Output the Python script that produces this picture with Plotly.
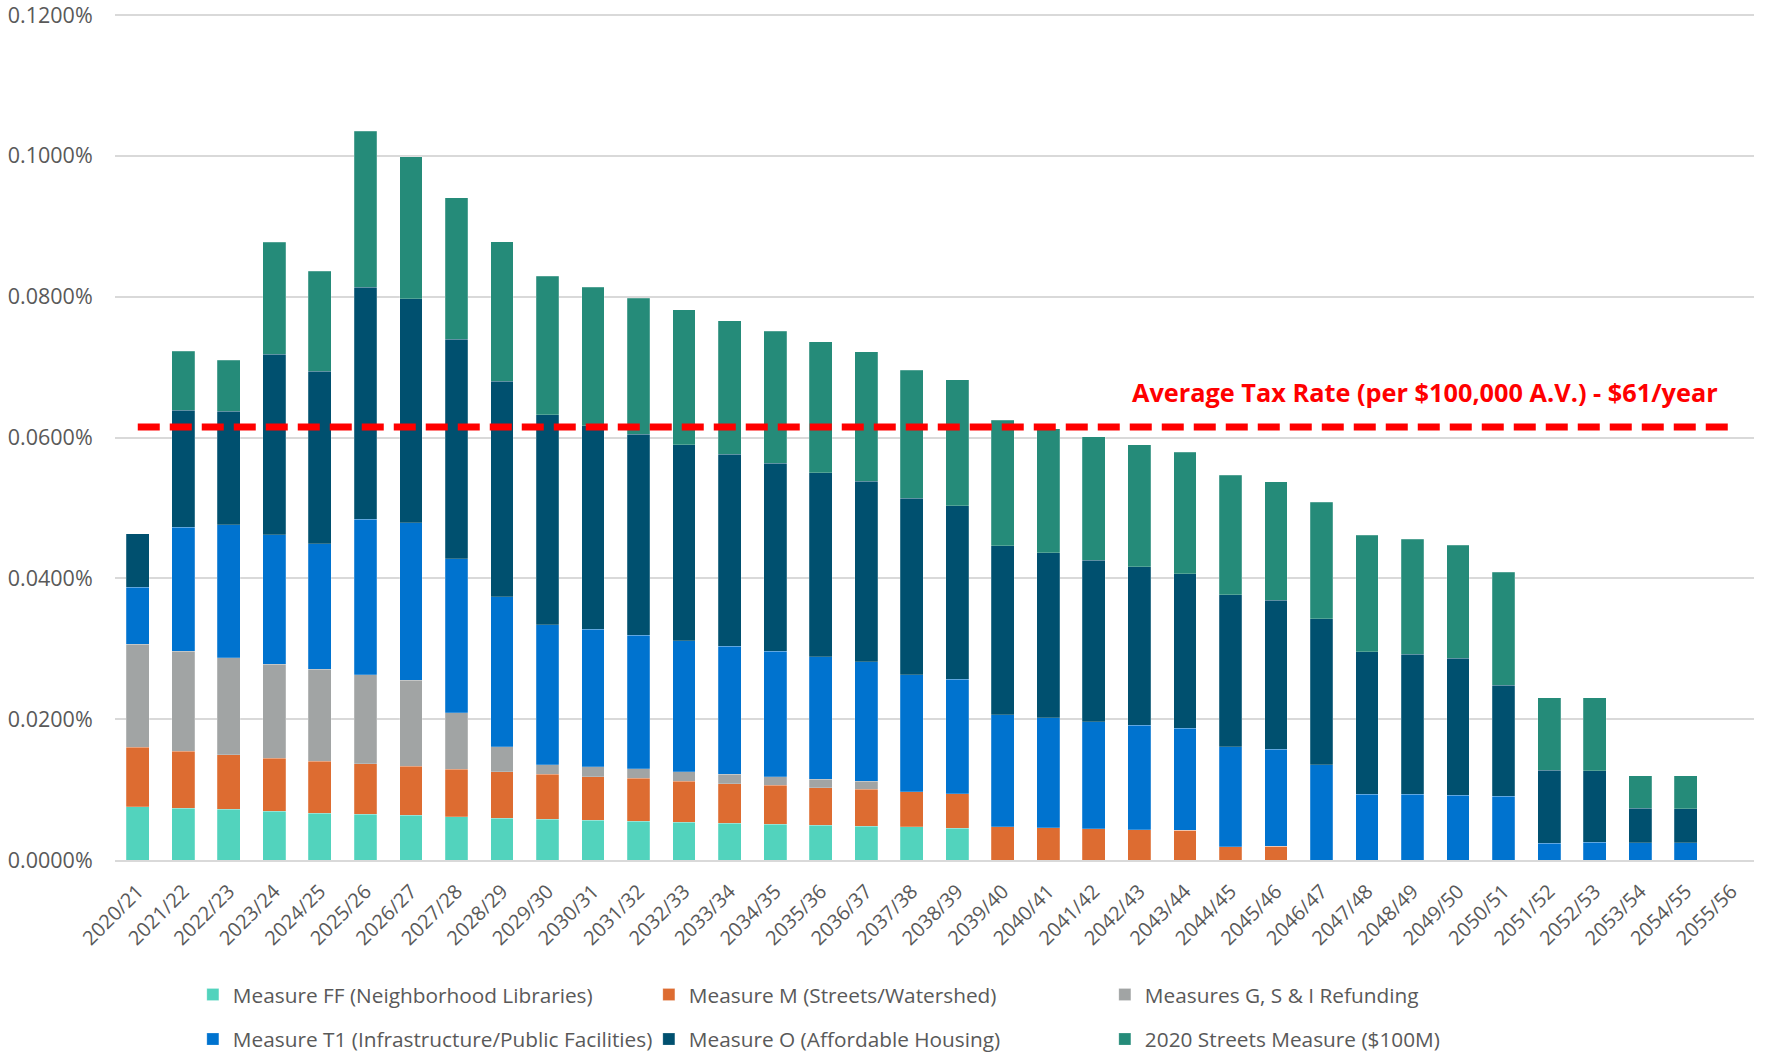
import plotly.graph_objects as go

years = ["2020/21", "2021/22", "2022/23", "2023/24", "2024/25", "2025/26", "2026/27", "2027/28",
         "2028/29", "2029/30", "2030/31", "2031/32", "2032/33", "2033/34", "2034/35", "2035/36",
         "2036/37", "2037/38", "2038/39", "2039/40", "2040/41", "2041/42", "2042/43", "2043/44",
         "2044/45", "2045/46", "2046/47", "2047/48", "2048/49", "2049/50", "2050/51", "2051/52",
         "2052/53", "2053/54", "2054/55", "2055/56"]

# values in percent of assessed value
measure_ff = [0.00756, 0.00732, 0.00718, 0.00689, 0.00666, 0.00647, 0.00633, 0.00614, 0.00595,
              0.00580, 0.00565, 0.00553, 0.00536, 0.00519, 0.00508, 0.00492, 0.00481, 0.00470,
              0.00453, 0, 0, 0, 0, 0, 0, 0, 0, 0, 0, 0, 0, 0, 0, 0, 0, 0]
measure_m = [0.00843, 0.00810, 0.00777, 0.00758, 0.00739, 0.00720, 0.00696, 0.00677, 0.00658,
             0.00635, 0.00615, 0.00607, 0.00580, 0.00564, 0.00553, 0.00536, 0.00525, 0.00497,
             0.00486, 0.00475, 0.00459, 0.00442, 0.00431, 0.00420, 0.00190, 0.00192,
             0, 0, 0, 0, 0, 0, 0, 0, 0, 0]
measures_gsi = [0.01464, 0.01422, 0.01379, 0.01332, 0.01303, 0.01265, 0.01223, 0.00801, 0.00356,
                0.00138, 0.00142, 0.00138, 0.00138, 0.00133, 0.00121, 0.00121, 0.00116,
                0, 0, 0, 0, 0, 0, 0, 0, 0, 0, 0, 0, 0, 0, 0, 0, 0, 0, 0]
measure_t1 = [0.00810, 0.01762, 0.01891, 0.01844, 0.01787, 0.02208, 0.02241, 0.02189, 0.02132,
              0.01990, 0.01954, 0.01895, 0.01857, 0.01823, 0.01785, 0.01741, 0.01696, 0.01663,
              0.01630, 0.01586, 0.01558, 0.01519, 0.01486, 0.01453, 0.01420, 0.01380, 0.01354,
              0.00934, 0.00935, 0.00923, 0.00906, 0.00235, 0.00250, 0.00243, 0.00243, 0]
measure_o = [0.00764, 0.01664, 0.01610, 0.02558, 0.02445, 0.03298, 0.03179, 0.03113, 0.03056,
             0.02980, 0.02894, 0.02851, 0.02790, 0.02724, 0.02669, 0.02613, 0.02558, 0.02508,
             0.02459, 0.02403, 0.02348, 0.02299, 0.02249, 0.02193, 0.02160, 0.02116, 0.02072,
             0.02027, 0.01984, 0.01939, 0.01575, 0.01040, 0.01020, 0.00492, 0.00486, 0]
streets_2020 = [0, 0.00838, 0.00721, 0.01592, 0.01421, 0.02213, 0.02018, 0.02009, 0.01981,
                0.01971, 0.01968, 0.01934, 0.01917, 0.01895, 0.01872, 0.01856, 0.01840, 0.01818,
                0.01795, 0.01785, 0.01762, 0.01751, 0.01729, 0.01724, 0.01696, 0.01685, 0.01657,
                0.01652, 0.01635, 0.01608, 0.01608, 0.01027, 0.01038, 0.00464, 0.00470, 0]
average_rate = [0.0615] * len(years)

series_names = ["Measure FF (Neighborhood Libraries)", "Measure M (Streets/Watershed)",
                "Measures G, S & I Refunding", "Measure T1 (Infrastructure/Public Facilities)",
                "Measure O (Affordable Housing)", "2020 Streets Measure ($100M)"]
series_values = [measure_ff, measure_m, measures_gsi, measure_t1, measure_o, streets_2020]
series_colors = ["#52D3BD", "#DD6C31", "#A1A4A4", "#0073CF", "#00506F", "#258B79"]
series_legend = ["legend", "legend", "legend", "legend2", "legend2", "legend2"]

y_ticks = [0, 0.02, 0.04, 0.06, 0.08, 0.10, 0.12]
y_tick_labels = ["0.0000%", "0.0200%", "0.0400%", "0.0600%", "0.0800%", "0.1000%", "0.1200%"]
avg_label = "Average Tax Rate (per $100,000 A.V.) - $61/year"

FONT = "Open Sans"
GREY = "#595959"

fig = go.Figure()
for name, vals, col, leg in zip(series_names, series_values, series_colors, series_legend):
    fig.add_trace(go.Bar(x=years, y=vals, name=name,
                         marker=dict(color=col, line=dict(width=0.6, color="rgba(255,255,255,0.35)")),
                         legend=leg))

fig.add_trace(go.Scatter(x=years, y=average_rate, mode="lines", showlegend=False,
                         line=dict(color="#FF0000", width=7, dash="22px,10px")))

fig.add_annotation(text="<b>" + avg_label + "</b>", xref="paper", yref="y", x=0.9795, y=0.0665,
                   xanchor="right", yanchor="middle", showarrow=False,
                   font=dict(family=FONT, size=25.3, color="#FF0000"))

fig.update_layout(
    width=1765, height=1052,
    margin=dict(l=115, r=11, t=13, b=192, autoexpand=False),
    barmode="stack", bargap=0.5,
    plot_bgcolor="white", paper_bgcolor="white",
    font=dict(family=FONT, size=20, color=GREY),
    legend=dict(orientation="h", x=0.0475, y=-0.1594, xanchor="left", yanchor="middle",
                entrywidth=411, entrywidthmode="pixels", font=dict(size=20.8, color=GREY),
                traceorder="normal"),
    legend2=dict(orientation="h", x=0.0475, y=-0.2120, xanchor="left", yanchor="middle",
                 entrywidth=411, entrywidthmode="pixels", font=dict(size=20.8, color=GREY),
                 traceorder="normal"),
)
fig.update_xaxes(type="category", tickangle=-45, ticks="outside", ticklen=10,
                 tickcolor="rgba(0,0,0,0)", tickfont=dict(size=20, color=GREY),
                 showline=True, linecolor="#D9D9D9", linewidth=1.5, showgrid=False)
fig.update_yaxes(range=[0, 0.1203], tickvals=y_ticks, ticktext=y_tick_labels,
                 showgrid=True, gridcolor="#D9D9D9", gridwidth=1.5, zeroline=False,
                 ticks="outside", ticklen=17, tickcolor="rgba(0,0,0,0)",
                 ticklabeloverflow="allow", tickfont=dict(size=21.5, color=GREY))

fig.write_html("out.html", config={"displayModeBar": False},
               post_script="document.body.style.margin='0';document.body.style.overflow='hidden';")
